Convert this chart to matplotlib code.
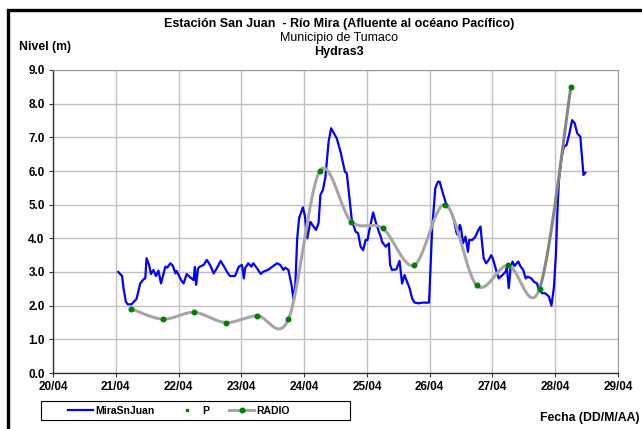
import matplotlib

matplotlib.use("Agg")
import matplotlib.pyplot as plt
import numpy as np
from matplotlib.lines import Line2D
from matplotlib.patches import Rectangle
from matplotlib.ticker import FixedLocator, FuncFormatter

plt.rcParams["font.family"] = ["Liberation Sans", "DejaVu Sans"]

# Nivel medido en la estacion (dia de abril con fraccion, metros)
mira_dia = [
    21.04, 21.10, 21.12, 21.16, 21.19, 21.25, 21.33, 21.39, 21.44, 21.47,
    21.49, 21.53, 21.56, 21.60, 21.64, 21.68, 21.72, 21.79, 21.82, 21.87,
    21.91, 21.95, 21.97, 22.01, 22.04, 22.08, 22.13, 22.18, 22.24, 22.26,
    22.28, 22.31, 22.34, 22.40, 22.45, 22.50, 22.56, 22.61, 22.67, 22.72,
    22.77, 22.82, 22.90, 22.96, 23.01, 23.04, 23.06, 23.11, 23.16, 23.19,
    23.25, 23.31, 23.35, 23.42, 23.46, 23.51, 23.57, 23.62, 23.67, 23.70,
    23.75, 23.80, 23.83, 23.86, 23.89, 23.92, 23.98, 24.01, 24.05, 24.10,
    24.15, 24.19, 24.23, 24.26, 24.30, 24.34, 24.39, 24.43, 24.49, 24.52,
    24.58, 24.65, 24.68, 24.76, 24.82, 24.86, 24.90, 24.94, 24.98, 25.01,
    25.04, 25.10, 25.14, 25.19, 25.23, 25.24, 25.30, 25.35, 25.37, 25.40,
    25.47, 25.52, 25.56, 25.60, 25.64, 25.68, 25.72, 25.76, 25.83, 25.88,
    25.99, 26.04, 26.09, 26.13, 26.16, 26.21, 26.26, 26.33, 26.38, 26.43,
    26.45, 26.48, 26.50, 26.53, 26.57, 26.61, 26.63, 26.68, 26.73, 26.77,
    26.81, 26.83, 26.86, 26.90, 26.94, 26.98, 27.01, 27.05, 27.10, 27.16,
    27.21, 27.23, 27.26, 27.29, 27.32, 27.35, 27.41, 27.45, 27.49, 27.53,
    27.56, 27.62, 27.66, 27.71, 27.73, 27.79, 27.84, 27.90, 27.94, 27.98,
    28.01, 28.04, 28.06, 28.10, 28.14, 28.18, 28.22, 28.27, 28.31, 28.35,
    28.40, 28.45, 28.48,
]
mira_nivel = [
    3.00, 2.88, 2.56, 2.12, 2.04, 2.04, 2.20, 2.66, 2.78, 2.81,
    3.41, 3.21, 2.94, 3.06, 2.88, 3.04, 2.66, 3.16, 3.13, 3.26,
    3.18, 2.96, 3.03, 2.88, 2.76, 2.66, 2.94, 2.85, 2.76, 3.15,
    2.62, 3.11, 3.16, 3.21, 3.36, 3.21, 2.96, 3.11, 3.33, 3.18,
    3.01, 2.88, 2.88, 3.16, 3.21, 2.81, 3.11, 3.26, 3.16, 3.26,
    3.11, 2.94, 3.01, 3.06, 3.11, 3.18, 3.26, 3.21, 3.06, 3.13,
    3.06, 2.61, 2.20, 2.61, 4.00, 4.60, 4.92, 4.69, 4.00, 4.49,
    4.35, 4.25, 4.45, 5.29, 5.44, 5.83, 6.87, 7.27, 7.07, 6.97,
    6.57, 5.98, 5.93, 4.54, 4.20, 4.15, 3.75, 3.65, 3.95, 3.95,
    4.25, 4.77, 4.49, 4.20, 4.00, 3.90, 3.75, 3.85, 3.21, 3.06,
    3.08, 3.33, 2.66, 2.91, 2.71, 2.52, 2.22, 2.09, 2.07, 2.09,
    2.09, 4.30, 5.49, 5.68, 5.68, 5.34, 5.04, 4.84, 4.59, 4.15,
    4.10, 4.40, 4.30, 3.85, 4.05, 3.60, 3.95, 3.95, 4.05, 4.23,
    4.35, 3.95, 3.41, 3.26, 3.36, 3.50, 3.38, 3.11, 2.81, 2.91,
    3.01, 3.13, 2.52, 3.16, 3.31, 3.18, 3.31, 3.16, 3.06, 2.81,
    2.86, 2.81, 2.71, 2.66, 2.52, 2.37, 2.37, 2.27, 2.00, 2.56,
    3.50, 5.04, 5.73, 6.42, 6.72, 6.77, 7.07, 7.51, 7.42, 7.12,
    7.02, 5.88, 5.95,
]

# Lecturas reportadas por radio
radio_dia = [21.25, 21.75, 22.25, 22.75, 23.25, 23.75, 24.25, 24.75,
             25.25, 25.75, 26.25, 26.75, 27.25, 27.75, 28.25]
radio_nivel = [1.9, 1.6, 1.8, 1.5, 1.7, 1.6, 6.0, 4.5,
               4.3, 3.2, 5.0, 2.6, 3.2, 2.5, 8.5]

# Serie P (sin lecturas en el periodo)
p_dia = []
p_nivel = []

dias_eje = [20, 21, 22, 23, 24, 25, 26, 27, 28, 29]
niveles_eje = [0.0, 1.0, 2.0, 3.0, 4.0, 5.0, 6.0, 7.0, 8.0, 9.0]


def suavizar(x, y, n=30):
    """Curva suave tipo Excel (Bezier con tangentes Catmull-Rom)."""
    x = np.asarray(x, float)
    y = np.asarray(y, float)
    pts = np.column_stack([x, y])
    out = []
    for i in range(len(pts) - 1):
        p0 = pts[max(i - 1, 0)]
        p1 = pts[i]
        p2 = pts[i + 1]
        p3 = pts[min(i + 2, len(pts) - 1)]
        b1 = p1 + (p2 - p0) / 6.0
        b2 = p2 - (p3 - p1) / 6.0
        t = np.linspace(0, 1, n)[:, None]
        seg = ((1 - t) ** 3) * p1 + 3 * ((1 - t) ** 2) * t * b1 \
            + 3 * (1 - t) * t ** 2 * b2 + t ** 3 * p2
        out.append(seg if i == 0 else seg[1:])
    curva = np.vstack(out)
    return curva[:, 0], curva[:, 1]


fig = plt.figure(figsize=(6.42, 4.29), dpi=100)
ax = fig.add_axes([53 / 642, 1 - 373 / 429, 565 / 642, 303 / 429])

ax.set_xlim(20, 29)
ax.set_ylim(0, 9)
ax.xaxis.set_major_locator(FixedLocator(dias_eje))
ax.yaxis.set_major_locator(FixedLocator(niveles_eje))
ax.xaxis.set_major_formatter(FuncFormatter(lambda v, pos: f"{int(round(v)):02d}/04"))
ax.yaxis.set_major_formatter(FuncFormatter(lambda v, pos: f"{v:.1f}"))
ax.grid(True, color="#c0c0c0", linewidth=1.0)
ax.set_axisbelow(True)

for lado in ["top", "right"]:
    ax.spines[lado].set_color("#999999")
    ax.spines[lado].set_linewidth(0.8)
for lado in ["left", "bottom"]:
    ax.spines[lado].set_color("#333333")
    ax.spines[lado].set_linewidth(1.0)

ax.tick_params(axis="both", direction="out", length=3, width=0.8,
               color="#333333", labelsize=8.5, pad=3)
for lbl in ax.get_xticklabels() + ax.get_yticklabels():
    lbl.set_fontweight("bold")

# Nivel medido
ax.plot(mira_dia, mira_nivel, color="#0000ff", linewidth=1.6,
        label="MiraSnJuan", zorder=3)

# Serie P
ax.plot(p_dia, p_nivel, linestyle="none", marker="s", markersize=1.6,
        color="#008000", label="P")

# Lecturas de radio con curva suavizada
sx, sy = suavizar(radio_dia, radio_nivel)
corte = np.searchsorted(sx, radio_dia[-2])
ax.plot(sx[:corte + 1], sy[:corte + 1], color="#a6a6a6", linewidth=2.2, zorder=4)
ax.plot(sx[corte:], sy[corte:], color="#858585", linewidth=2.2, zorder=4)
ax.plot(radio_dia, radio_nivel, linestyle="none", marker="o", markersize=3.3,
        color="#008000", zorder=5)
linea_radio = Line2D([], [], color="#a6a6a6", linewidth=2.2, marker="o",
                     markersize=3.3, markerfacecolor="#008000",
                     markeredgecolor="#008000")

# Recuadro de la leyenda
fig.add_artist(Rectangle((41 / 642, 1 - 420 / 429), 309 / 642, 19 / 429,
                         transform=fig.transFigure, fill=False,
                         edgecolor="#000000", linewidth=0.8))
fig.legend(
    handles=[ax.lines[0], ax.lines[1], linea_radio],
    labels=["MiraSnJuan", "P", "RADIO"],
    loc="center left",
    bbox_to_anchor=(68 / 642, 1 - 410.5 / 429),
    ncol=3,
    frameon=False,
    handlelength=2.4,
    handletextpad=0.25,
    borderpad=0.0,
    borderaxespad=0.0,
    columnspacing=1.9,
    prop={"weight": "bold", "size": 7.5},
)

fig.text(339 / 642, 1 - 24 / 429,
         "Estación San Juan  - Río Mira (Afluente al océano Pacífico)",
         ha="center", va="center", fontsize=9, fontweight="bold")
fig.text(339 / 642, 1 - 38 / 429, "Municipio de Tumaco",
         ha="center", va="center", fontsize=9)
fig.text(339 / 642, 1 - 52 / 429, "Hydras3",
         ha="center", va="center", fontsize=9, fontweight="bold")
fig.text(19 / 642, 1 - 47 / 429, "Nivel (m)",
         ha="left", va="center", fontsize=8.8, fontweight="bold")
fig.text(640 / 642, 1 - 418 / 429, "Fecha (DD/M/AA)",
         ha="right", va="center", fontsize=8.8, fontweight="bold")

# Marco exterior del grafico
fig.add_artist(Rectangle((8 / 642, -0.1), 1.2, 1.1 - 9.5 / 429,
                         transform=fig.transFigure, fill=False,
                         edgecolor="#000000", linewidth=2.4))

fig.savefig("out.png", dpi=100)
